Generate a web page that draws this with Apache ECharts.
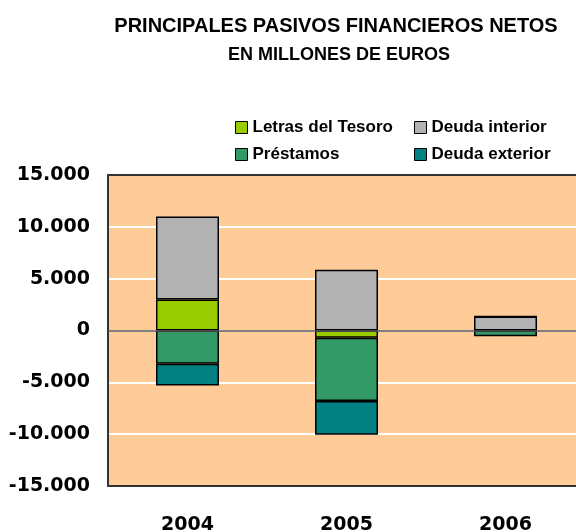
<!DOCTYPE html>
<html>
<head>
<meta charset="utf-8">
<script src="https://cdn.jsdelivr.net/npm/echarts@6/dist/echarts.min.js"></script>
<style>
  html, body { margin: 0; padding: 0; background: #fff; }
  #chart { width: 576px; height: 532px; }
</style>
</head>
<body>
<div id="chart"></div>
<script>
  // datos (millones de euros)
  var years = ['2004', '2005', '2006'];
  var letras = [3000, -700, 0];
  var prestamos = [-3200, -6100, -550];
  var deudaInterior = [8000, 5850, 1350];
  var deudaExterior = [-2100, -3250, 0];

  var yTicks = [-15000, 15000, 5000]; // min, max, interval

  var font = '"Liberation Sans", Arial, sans-serif';
  var axisFont = '"DejaVu Sans", Verdana, sans-serif';
  var border = { borderColor: '#000', borderWidth: 1.5 };
  var frame = { show: true, onZero: false, lineStyle: { color: '#333', width: 2 } };

  function bar(name, data, color) {
    return {
      name: name,
      type: 'bar',
      stack: 'total',
      data: data,
      barWidth: 63,
      itemStyle: Object.assign({ color: color }, border),
      emphasis: { disabled: true }
    };
  }

  var series = [
    bar('Letras del Tesoro', letras, '#99CC00'),
    bar('Préstamos', prestamos, '#339966'),
    bar('Deuda interior', deudaInterior, '#B2B2B2'),
    bar('Deuda exterior', deudaExterior, '#008080')
  ];
  // linea del cero
  series[0].markLine = {
    silent: true,
    symbol: 'none',
    label: { show: false },
    lineStyle: { color: '#555', width: 1.5, type: 'solid' },
    data: [{ yAxis: 0 }]
  };

  var legendText = { fontFamily: font, fontWeight: 'bold', fontSize: 17, color: '#000' };
  var legendCommon = {
    orient: 'vertical',
    top: 114,
    itemWidth: 12,
    itemHeight: 12,
    itemGap: 10,
    icon: 'rect',
    textStyle: legendText,
    itemStyle: { borderColor: '#000', borderWidth: 1 },
    selectedMode: false
  };

  var chart = echarts.init(document.getElementById('chart'));
  chart.setOption({
    animation: false,
    title: [
      {
        text: 'PRINCIPALES PASIVOS FINANCIEROS NETOS',
        left: 331, top: 11, textAlign: 'center',
        textStyle: { fontFamily: font, fontWeight: 'bold', fontSize: 20, color: '#000' }
      },
      {
        text: 'EN MILLONES DE EUROS',
        left: 334, top: 41, textAlign: 'center',
        textStyle: { fontFamily: font, fontWeight: 'bold', fontSize: 18, color: '#000' }
      }
    ],
    legend: [
      Object.assign({ left: 230, data: ['Letras del Tesoro', 'Préstamos'] }, legendCommon),
      Object.assign({ left: 409, data: ['Deuda interior', 'Deuda exterior'] }, legendCommon)
    ],
    grid: {
      left: 108, top: 175, width: 477, height: 311,
      outerBoundsMode: 'none',
      containLabel: false,
      show: true,
      backgroundColor: '#FFCC99',
      borderWidth: 0
    },
    xAxis: [
      {
        type: 'category',
        data: years,
        axisLine: frame,
        axisTick: { show: false },
        axisLabel: {
          margin: 30,
          fontFamily: axisFont, fontWeight: 'bold', fontSize: 19, color: '#000'
        }
      },
      {
        // borde superior del marco
        type: 'category',
        position: 'top',
        data: years,
        axisLine: frame,
        axisTick: { show: false },
        axisLabel: { show: false }
      }
    ],
    yAxis: {
      type: 'value',
      min: yTicks[0],
      max: yTicks[1],
      interval: yTicks[2],
      axisLine: frame,
      axisTick: { show: false },
      splitLine: {
        showMinLine: false,
        showMaxLine: false,
        lineStyle: { color: '#fff', width: 2 }
      },
      axisLabel: {
        margin: 18,
        fontFamily: axisFont, fontWeight: 'bold', fontSize: 19, color: '#000',
        formatter: function (v) {
          var s = Math.abs(v).toString().replace(/\B(?=(\d{3})+(?!\d))/g, '.');
          return (v < 0 ? '-' : '') + s;
        }
      }
    },
    series: series
  });
</script>
</body>
</html>
